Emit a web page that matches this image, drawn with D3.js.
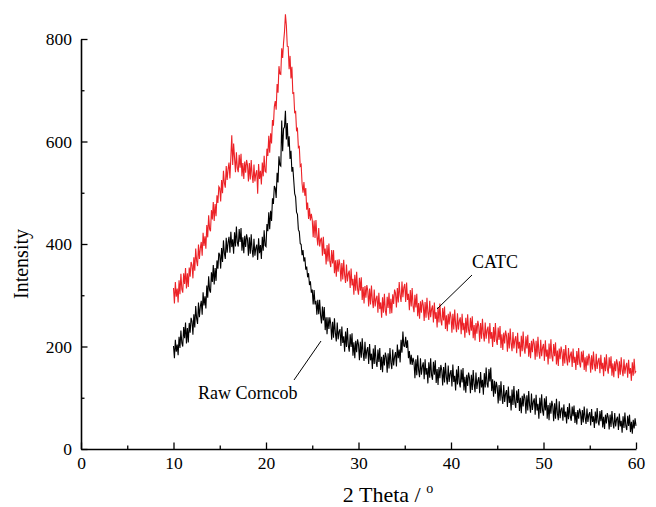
<!DOCTYPE html>
<html>
<head>
<meta charset="utf-8">
<script src="https://cdn.jsdelivr.net/npm/d3@7"></script>
<style>
  html, body { margin: 0; padding: 0; background: #fff; }
  svg { display: block; }
  svg text { font-family: "Times New Roman", "Liberation Serif", Tinos, "DejaVu Serif", serif; }
</style>
</head>
<body>
<div id="chart"></div>
<script>
// 2θ sampling grid: 10.0 .. 60.0 in 0.1° steps (501 points)
const angles = d3.range(0, 501).map(i => +(10 + i * 0.1).toFixed(1));

// Raw Corncob, one row per degree (10 readings each)
const rawCorncob = [
  201, 177, 213, 190, 204, 183, 219, 197, 231, 207,
  200, 238, 216, 247, 206, 236, 208, 246, 227, 256,
  249, 223, 263, 237, 279, 255, 244, 286, 257, 278,
  289, 262, 306, 280, 298, 274, 319, 295, 337, 310,
  305, 345, 326, 359, 321, 353, 328, 368, 352, 383,
  379, 352, 392, 365, 407, 382, 371, 412, 383, 403,
  414, 383, 424, 394, 409, 381, 423, 395, 434, 403,
  395, 429, 404, 431, 387, 413, 382, 416, 394, 419,
  409, 377, 413, 381, 419, 389, 374, 410, 377, 392,
  399, 369, 411, 382, 398, 371, 414, 387, 427, 397,
  395, 439, 425, 462, 429, 465, 445, 489, 478, 513,
  509, 490, 539, 520, 571, 554, 552, 641, 581, 625,
  628, 660, 604, 636, 590, 610, 566, 582, 541, 550,
  524, 498, 492, 462, 458, 428, 424, 401, 399, 378,
  388, 366, 374, 350, 356, 335, 343, 320, 327, 305,
  311, 282, 310, 282, 289, 262, 291, 263, 291, 261,
  245, 278, 251, 277, 232, 257, 224, 257, 234, 257,
  244, 213, 248, 217, 255, 226, 210, 247, 214, 229,
  234, 201, 239, 207, 220, 190, 229, 199, 236, 202,
  190, 224, 199, 226, 182, 208, 177, 211, 189, 214,
  204, 173, 209, 178, 216, 187, 172, 209, 176, 192,
  199, 166, 205, 173, 186, 156, 196, 166, 203, 170,
  160, 194, 170, 197, 154, 180, 150, 184, 163, 188,
  179, 149, 187, 157, 197, 169, 156, 194, 163, 180,
  189, 161, 204, 177, 194, 169, 213, 188, 229, 201,
  200, 219, 197, 212, 177, 191, 165, 184, 164, 178,
  169, 138, 175, 144, 183, 154, 140, 177, 145, 161,
  169, 136, 175, 145, 158, 128, 169, 139, 177, 144,
  135, 170, 145, 173, 129, 156, 125, 160, 138, 164,
  154, 124, 160, 130, 168, 140, 126, 163, 131, 147,
  154, 122, 165, 131, 143, 114, 155, 126, 162, 130,
  120, 155, 130, 158, 114, 141, 110, 145, 123, 149,
  139, 109, 145, 115, 154, 126, 111, 149, 117, 133,
  140, 109, 150, 120, 135, 106, 148, 120, 159, 127,
  120, 156, 132, 159, 113, 136, 102, 133, 108, 131,
  120,  89, 125,  94, 132, 103,  88, 125,  92, 108,
  115,  82, 122,  90, 104,  75, 116,  86, 123,  91,
   80, 114,  90, 117,  74, 100,  70, 104,  83, 108,
   99,  69, 105,  75, 113,  85,  71, 108,  76,  92,
   99,  67, 106,  75,  88,  59, 100,  70, 107,  75,
   65,  99,  75, 103,  59,  86,  56,  90,  69,  94,
   84,  54,  89,  59,  98,  70,  56,  93,  60,  77,
   81,  55,  87,  62,  73,  50,  82,  58,  89,  63,
   55,  83,  64,  85,  51,  72,  48,  76,  59,  79,
   71,  47,  76,  52,  83,  61,  49,  79,  53,  67,
   72,  46,  78,  53,  64,  41,  73,  50,  80,  54,
   46,  74,  54,  76,  42,  63,  39,  67,  50,  70,
   62,  38,  67,  43,  74,  52,  40,  70,  44,  58,
   63,  37,  69,  44,  55,  32,  64,  41,  71,  45,
   37,  65,  45,  67,  33,  53,  30,  57,  40,  60,
   45
];

// CATC, same grid
const catc = [
  314, 284, 326, 297, 313, 286, 329, 302, 342, 312,
  305, 343, 322, 353, 313, 343, 316, 354, 336, 365,
  359, 333, 374, 348, 391, 367, 357, 399, 371, 392,
  404, 377, 422, 396, 415, 391, 437, 413, 456, 429,
  425, 466, 448, 482, 445, 478, 454, 495, 480, 512,
  509, 483, 525, 499, 543, 519, 510, 552, 525, 546,
  559, 528, 569, 612, 554, 596, 568, 540, 579, 548,
  540, 574, 549, 576, 532, 558, 527, 561, 539, 564,
  554, 522, 558, 526, 564, 534, 519, 555, 522, 537,
  544, 498, 556, 527, 543, 516, 559, 532, 572, 542,
  540, 586, 572, 611, 578, 616, 596, 642, 631, 668,
  679, 662, 712, 695, 747, 732, 731, 782, 763, 793,
  814, 848, 827, 786, 785, 741, 767, 723, 746, 694,
  695, 655, 660, 622, 625, 588, 590, 552, 555, 518,
  500, 521, 494, 509, 467, 481, 449, 470, 446, 459,
  447, 413, 446, 412, 447, 415, 397, 431, 395, 408,
  412, 377, 414, 380, 391, 360, 398, 366, 401, 366,
  355, 388, 362, 388, 343, 368, 336, 369, 346, 370,
  359, 327, 363, 331, 369, 339, 324, 360, 327, 342,
  348, 314, 352, 319, 332, 301, 340, 309, 346, 312,
  301, 334, 309, 335, 291, 316, 284, 318, 295, 320,
  309, 278, 313, 282, 319, 290, 275, 311, 278, 293,
  299, 266, 305, 273, 286, 256, 296, 266, 303, 270,
  260, 297, 275, 305, 264, 293, 265, 302, 283, 311,
  304, 276, 314, 286, 326, 300, 287, 327, 296, 315,
  322, 287, 325, 291, 303, 271, 310, 278, 314, 279,
  267, 301, 276, 303, 259, 285, 254, 288, 266, 291,
  281, 250, 287, 256, 295, 266, 252, 289, 257, 273,
  280, 247, 286, 254, 267, 237, 277, 247, 284, 251,
  241, 275, 251, 278, 234, 261, 230, 264, 243, 268,
  258, 227, 264, 233, 272, 243, 228, 265, 233, 250,
  257, 224, 264, 232, 246, 217, 256, 227, 263, 232,
  222, 256, 231, 259, 216, 242, 212, 246, 225, 250,
  240, 209, 246, 215, 254, 225, 210, 247, 215, 232,
  239, 206, 246, 215, 228, 199, 238, 209, 246, 213,
  203, 237, 213, 240, 197, 224, 193, 227, 206, 231,
  221, 190, 227, 196, 235, 206, 191, 228, 196, 213,
  220, 187, 227, 196, 209, 180, 221, 191, 229, 196,
  186, 220, 196, 223, 180, 207, 177, 211, 189, 215,
  205, 174, 211, 180, 219, 190, 176, 213, 181, 198,
  205, 172, 212, 180, 194, 165, 206, 176, 214, 181,
  171, 205, 181, 208, 165, 192, 162, 196, 175, 200,
  189, 162, 195, 167, 203, 176, 163, 197, 169, 183,
  190, 160, 196, 168, 180, 154, 191, 164, 197, 168,
  159, 190, 169, 192, 154, 179, 151, 182, 163, 186,
  177, 149, 183, 155, 190, 165, 152, 186, 156, 171,
  178, 148, 184, 156, 168, 142, 179, 152, 185, 157,
  147, 179, 157, 181, 143, 167, 140, 171, 152, 175,
  166, 138, 171, 145, 179, 154, 142, 175, 147, 161,
  168, 139, 174, 147, 158, 133, 169, 143, 176, 149,
  152
];

const xTicks = [0, 10, 20, 30, 40, 50, 60];
const xMinorTicks = [5, 15, 25, 35, 45, 55];
const yTicks = [0, 200, 400, 600, 800];
const yMinorTicks = [100, 300, 500, 700];

const series = [
  { name: "CATC", values: catc, color: "#ec2227" },
  { name: "Raw Corncob", values: rawCorncob, color: "#000000" }
];

const W = 656, H = 507;
const svg = d3.select("#chart").append("svg")
  .attr("width", W).attr("height", H);

const x = d3.scaleLinear().domain([0, 60]).range([81, 636]);
const y = d3.scaleLinear().domain([0, 800]).range([449, 39]);

const line = d3.line()
  .x((d, i) => x(angles[i]))
  .y(d => y(d));

series.forEach(s => {
  svg.append("path")
    .datum(s.values)
    .attr("fill", "none")
    .attr("stroke", s.color)
    .attr("stroke-width", 1.1)
    .attr("d", line);
});

const serif = "'Times New Roman', 'Liberation Serif', serif";

const styleAxis = g => {
  g.attr("font-family", serif);
  g.select(".domain").attr("stroke", "#000").attr("stroke-width", 1.6);
  g.selectAll(".tick line").attr("stroke", "#000").attr("stroke-width", 1.3);
  g.selectAll(".tick text").attr("fill", "#000").attr("font-size", 17.5);
};

// minor ticks first so the major axis sits on top
svg.append("g")
  .attr("transform", `translate(0,${y(0)})`)
  .call(d3.axisBottom(x).tickValues(xMinorTicks).tickSize(-3.5).tickFormat(""))
  .call(g => g.select(".domain").remove())
  .call(g => g.selectAll(".tick line").attr("stroke", "#000").attr("stroke-width", 1.3));

svg.append("g")
  .attr("transform", `translate(${x(0)},0)`)
  .call(d3.axisLeft(y).tickValues(yMinorTicks).tickSize(-3.5).tickFormat(""))
  .call(g => g.select(".domain").remove())
  .call(g => g.selectAll(".tick line").attr("stroke", "#000").attr("stroke-width", 1.3));

svg.append("g")
  .attr("transform", `translate(0,${y(0)})`)
  .call(d3.axisBottom(x).tickValues(xTicks).tickSize(-6.5).tickSizeOuter(0).tickPadding(8).tickFormat(d3.format("d")))
  .call(styleAxis);

svg.append("g")
  .attr("transform", `translate(${x(0)},0)`)
  .call(d3.axisLeft(y).tickValues(yTicks).tickSize(-6.5).tickSizeOuter(0).tickPadding(9).tickFormat(d3.format("d")))
  .call(styleAxis);

// axis titles
const xTitle = svg.append("text")
  .attr("x", 388).attr("y", 502)
  .attr("text-anchor", "middle")
  .attr("font-family", serif)
  .attr("font-size", 22).attr("fill", "#000");
xTitle.append("tspan").text("2 Theta / ");
xTitle.append("tspan").attr("font-size", 14).attr("dy", -9).text("o");

svg.append("text")
  .attr("transform", "translate(28,264) rotate(-90)")
  .attr("text-anchor", "middle")
  .attr("font-family", serif)
  .attr("font-size", 20).attr("fill", "#000")
  .text("Intensity");

// annotations
svg.append("line")
  .attr("x1", 472).attr("y1", 275).attr("x2", 437).attr("y2", 309)
  .attr("stroke", "#000").attr("stroke-width", 1);
svg.append("text")
  .attr("x", 472).attr("y", 268)
  .attr("font-family", serif)
  .attr("font-size", 18).attr("fill", "#000")
  .text("CATC");

svg.append("line")
  .attr("x1", 294).attr("y1", 380).attr("x2", 321).attr("y2", 341)
  .attr("stroke", "#000").attr("stroke-width", 1);
svg.append("text")
  .attr("x", 198).attr("y", 399)
  .attr("font-family", serif)
  .attr("font-size", 18).attr("fill", "#000")
  .text("Raw Corncob");
</script>
</body>
</html>
